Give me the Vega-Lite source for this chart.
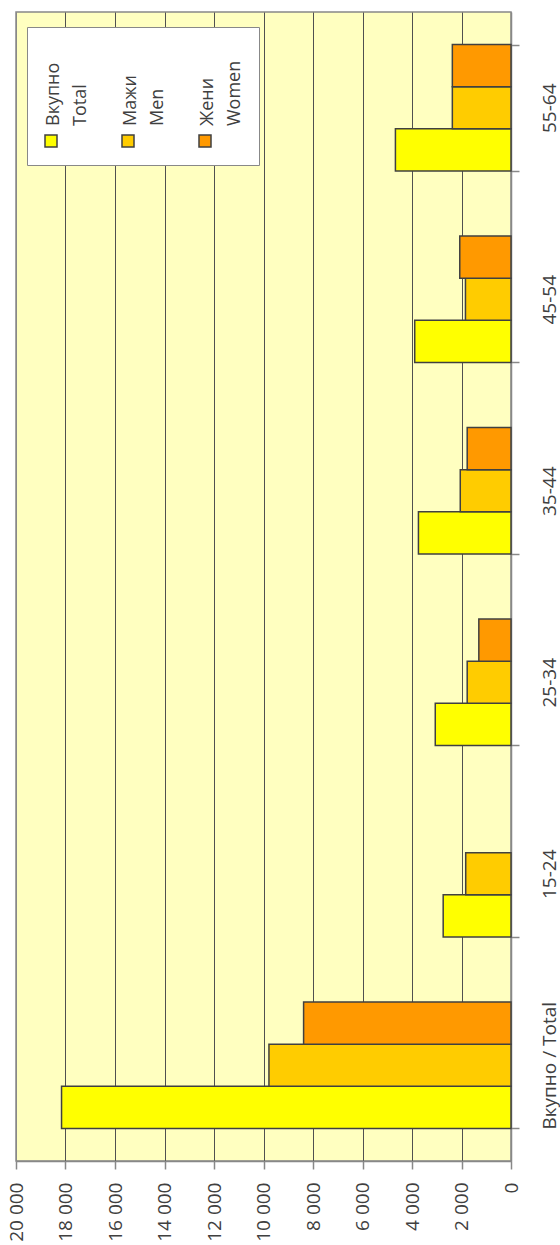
{
  "$schema": "https://vega.github.io/schema/vega-lite/v6.json",
  "width": 495,
  "height": 1149,
  "autosize": {"type": "none"},
  "padding": {"left": 16, "top": 12, "right": 49, "bottom": 84},
  "background": "white",
  "config": {
    "view": {"fill": "#FFFFC0", "stroke": "#888888", "strokeWidth": 1.5},
    "font": "Open Sans"
  },
  "data": {
    "values": [
      {"age": "Вкупно / Total", "series": "Вкупно / Total", "value": 18160},
      {"age": "Вкупно / Total", "series": "Мажи / Men", "value": 9780},
      {"age": "Вкупно / Total", "series": "Жени / Women", "value": 8380},
      {"age": "15-24", "series": "Вкупно / Total", "value": 2740},
      {"age": "15-24", "series": "Мажи / Men", "value": 1830},
      {"age": "25-34", "series": "Вкупно / Total", "value": 3060},
      {"age": "25-34", "series": "Мажи / Men", "value": 1770},
      {"age": "25-34", "series": "Жени / Women", "value": 1300},
      {"age": "35-44", "series": "Вкупно / Total", "value": 3740},
      {"age": "35-44", "series": "Мажи / Men", "value": 2050},
      {"age": "35-44", "series": "Жени / Women", "value": 1770},
      {"age": "45-54", "series": "Вкупно / Total", "value": 3890},
      {"age": "45-54", "series": "Мажи / Men", "value": 1840},
      {"age": "45-54", "series": "Жени / Women", "value": 2070},
      {"age": "55-64", "series": "Вкупно / Total", "value": 4670},
      {"age": "55-64", "series": "Мажи / Men", "value": 2370},
      {"age": "55-64", "series": "Жени / Women", "value": 2370}
    ]
  },
  "mark": {"type": "bar", "stroke": "#404040", "strokeWidth": 1.5},
  "encoding": {
    "y": {
      "field": "age",
      "type": "nominal",
      "sort": ["55-64", "45-54", "35-44", "25-34", "15-24", "Вкупно / Total"],
      "scale": {"paddingInner": 0.34, "paddingOuter": 0.17},
      "axis": {
        "orient": "right",
        "title": null,
        "labelAngle": -90,
        "labelAlign": "center",
        "labelBaseline": "top",
        "labelFontSize": 19,
        "labelColor": "#404040",
        "labelPadding": 21,
        "labelLimit": 400,
        "tickBand": "extent",
        "tickSize": 8,
        "tickColor": "#888888",
        "tickWidth": 1.5,
        "domainColor": "#888888",
        "domainWidth": 1.5,
        "grid": false
      }
    },
    "yOffset": {
      "field": "series",
      "sort": ["Жени / Women", "Мажи / Men", "Вкупно / Total"],
      "scale": {"paddingInner": 0, "paddingOuter": 0}
    },
    "x": {
      "field": "value",
      "type": "quantitative",
      "scale": {"domain": [0, 20000], "reverse": true, "nice": false},
      "axis": {
        "title": null,
        "values": [0, 2000, 4000, 6000, 8000, 10000, 12000, 14000, 16000, 18000, 20000],
        "labelExpr": "replace(format(datum.value, ','), ',', ' ')",
        "labelAngle": -90,
        "labelAlign": "right",
        "labelBaseline": "middle",
        "labelFontSize": 19,
        "labelColor": "#404040",
        "labelPadding": 13,
        "labelFlush": false,
        "labelOverlap": false,
        "tickSize": 8,
        "tickColor": "#888888",
        "tickWidth": 1.5,
        "domainColor": "#888888",
        "domainWidth": 1.5,
        "grid": true,
        "gridColor": {"condition": {"test": "datum.value == 0 || datum.value == 20000", "value": "#888888"}, "value": "#505050"},
        "gridWidth": 1
      }
    },
    "color": {
      "field": "series",
      "type": "nominal",
      "scale": {
        "domain": ["Вкупно / Total", "Мажи / Men", "Жени / Women"],
        "range": ["#FFFF00", "#FFCC00", "#FF9900"]
      },
      "legend": {
        "orient": "none",
        "legendX": 11,
        "legendY": 15,
        "direction": "horizontal",
        "title": "\u00a0",
        "titleFontSize": 12,
        "titlePadding": 78,
        "fillColor": "white",
        "strokeColor": "#888888",
        "padding": 15,
        "symbolType": "square",
        "symbolSize": 144,
        "symbolStrokeColor": "#404040",
        "symbolStrokeWidth": 1.5,
        "labelFont": "Open Sans",
        "labelFontSize": 18,
        "labelColor": "#404040",
        "labelExpr": "split(datum.label, ' / ')",
        "labelLimit": 500,
        "labelAlign": "left",
        "labelBaseline": "top",
        "labelOffset": -15,
        "columnPadding": 28,
        "encoding": {
          "labels": {
            "angle": {"value": -90},
            "dx": {"value": 15},
            "lineHeight": {"value": 27}
          }
        }
      }
    }
  }
}
